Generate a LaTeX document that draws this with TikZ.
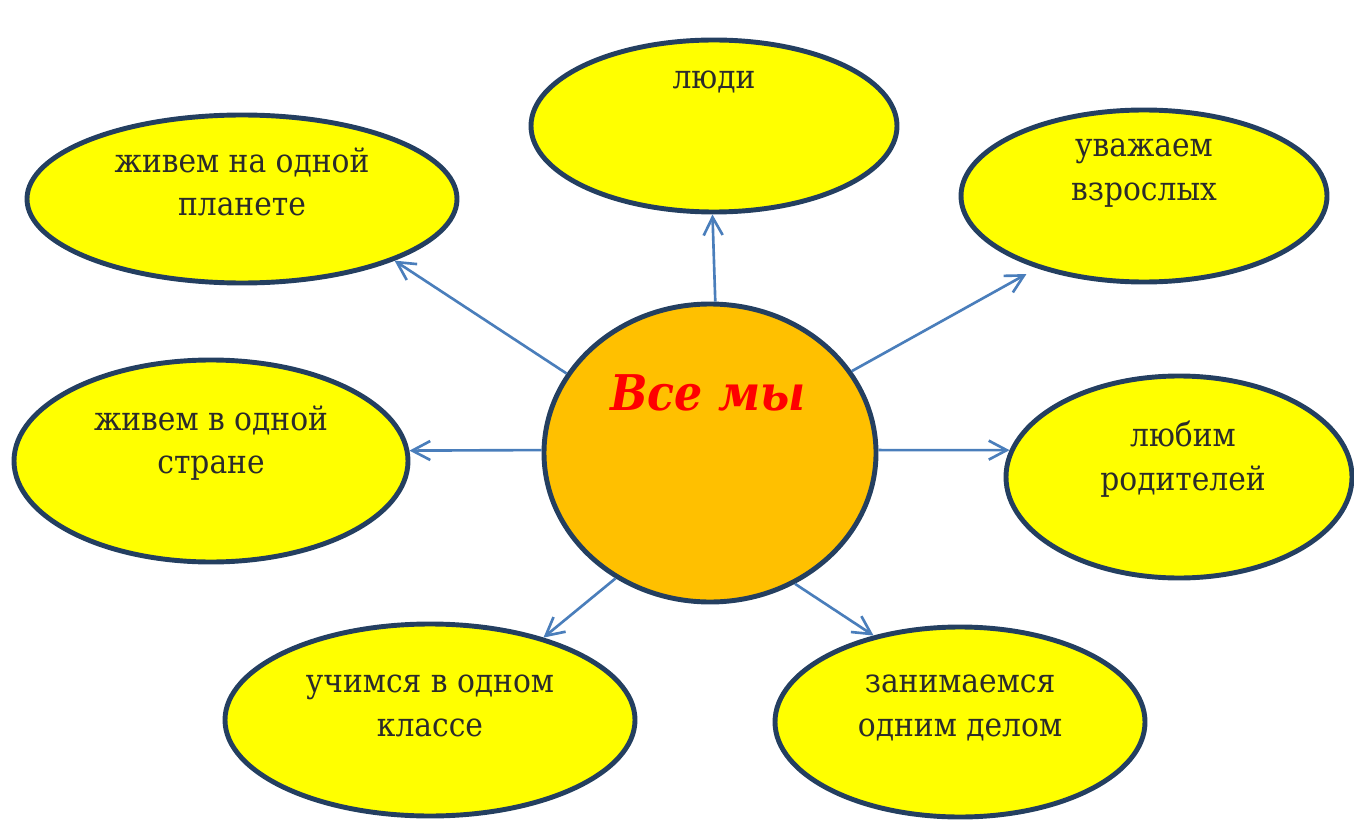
\documentclass[tikz,border=0pt]{standalone}
\usepackage{fontspec}
\setmainfont{DejaVu Serif Condensed}
\usetikzlibrary{arrows.meta,shapes.geometric}

\definecolor{rimblue}{HTML}{243F60}
\definecolor{sunorange}{HTML}{FFC000}
\definecolor{petalyellow}{HTML}{FFFF00}
\definecolor{arrowblue}{HTML}{4A7EBB}
\definecolor{inkgray}{HTML}{2B2B2B}

\tikzset{
	petal/.style={ellipse, draw=rimblue, line width=1.4pt, fill=petalyellow, inner sep=0pt},
	sun/.style={ellipse, draw=rimblue, line width=1.4pt, fill=sunorange, inner sep=0pt},
	petaltext/.style={align=center, text=inkgray, font=\rmfamily\fontsize{9.4}{12.4}\selectfont, inner sep=0pt},
	ray/.style={draw=arrowblue, line width=0.75pt, -{Straight Barb[length=1.8mm,width=1.9mm,line width=0.75pt]}}
}

\begin{document}
\begin{tikzpicture}
			%%%%% START %%%%%
			\useasboundingbox (0, 0) rectangle (13.54, -8.20);
			
			\node[sun, minimum width=3.32cm, minimum height=2.98cm] (all) at (7.10, -4.53) {};
			\node[font=\rmfamily\fontsize{14}{20}\selectfont\bfseries\itshape, text=red, inner sep=0pt] (all-t) at (7.08, -3.93) {Все мы};
			
			\node[petal, minimum width=3.66cm, minimum height=1.72cm] (ludi) at (7.14, -1.26) {};
			\node[petaltext] (ludi-t) at (7.14, -0.82) {люди};
			
			\node[petal, minimum width=4.30cm, minimum height=1.68cm] (planeta) at (2.42, -1.99) {};
			\node[petaltext] (planeta-t) at (2.42, -1.82) {живем на одной\\планете};
			
			\node[petal, minimum width=3.66cm, minimum height=1.72cm] (vzroslye) at (11.44, -1.96) {};
			\node[petaltext] (vzroslye-t) at (11.44, -1.73) {уважаем\\взрослых};
			
			\node[petal, minimum width=3.94cm, minimum height=2.02cm] (strana) at (2.11, -4.61) {};
			\node[petaltext] (strana-t) at (2.11, -4.43) {живем в одной\\стране};
			
			\node[petal, minimum width=3.46cm, minimum height=2.02cm] (roditeli) at (11.79, -4.77) {};
			\node[petaltext] (roditeli-t) at (11.83, -4.59) {любим\\родителей};
			
			\node[petal, minimum width=4.10cm, minimum height=1.92cm] (klass) at (4.30, -7.20) {};
			\node[petaltext] (klass-t) at (4.30, -7.06) {учимся в одном\\классе};
			
			\node[petal, minimum width=3.70cm, minimum height=1.90cm] (delo) at (9.60, -7.22) {};
			\node[petaltext] (delo-t) at (9.60, -7.08) {занимаемся\\одним делом};
			
			\draw[ray] (all.88.5) -- (ludi.269);
			\draw[ray] (all.151) -- (planeta.338);
			\draw[ray, shorten >=1.2mm] (all.30.4) -- (vzroslye.214);
			\draw[ray] (all.179) -- (strana.3);
			\draw[ray] (all.1) -- (roditeli.171);
			\draw[ray] (all.233) -- (klass.36);
			\draw[ray] (all.303.7) -- (delo.135);
			%%%%% END %%%%%
\end{tikzpicture}
\end{document}
